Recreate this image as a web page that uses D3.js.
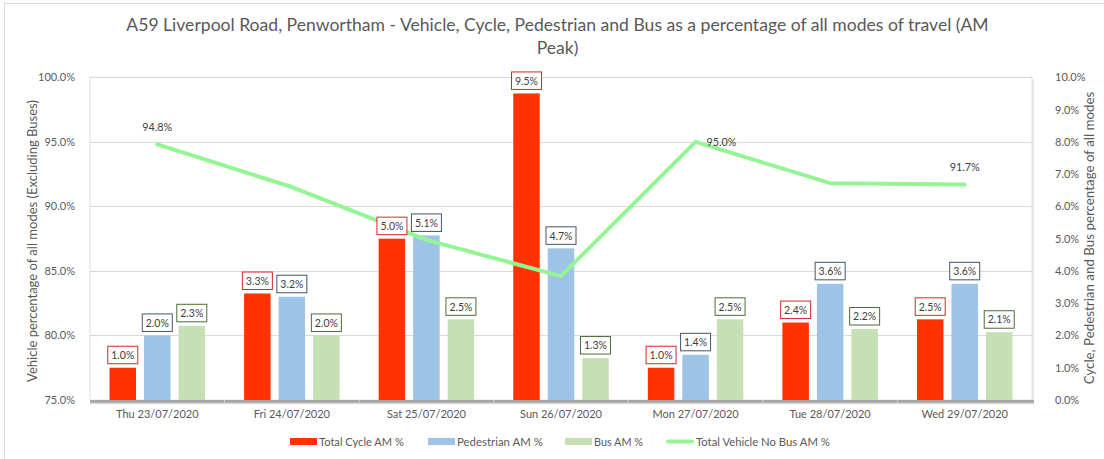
<!DOCTYPE html>
<html><head><meta charset="utf-8">
<script src="https://cdn.jsdelivr.net/npm/d3@7"></script>
<style>
body{margin:0;background:#fff;}
svg{display:block;font-family:Lato,"Open Sans",sans-serif;}
</style></head><body>
<svg id="c" width="1104" height="459"></svg>
<script>
const categories = ["Thu 23/07/2020","Fri 24/07/2020","Sat 25/07/2020","Sun 26/07/2020","Mon 27/07/2020","Tue 28/07/2020","Wed 29/07/2020"];
const cycle = [1.0,3.3,5.0,9.5,1.0,2.4,2.5];
const pedestrian = [2.0,3.2,5.1,4.7,1.4,3.6,3.6];
const bus = [2.3,2.0,2.5,1.3,2.5,2.2,2.1];
const vehicle = [94.8,91.5,87.4,84.6,95.0,91.8,91.7];
const leftTicks = [75,80,85,90,95,100];
const rightTicks = [0,1,2,3,4,5,6,7,8,9,10];
const seriesNames = ["Total Cycle AM %","Pedestrian AM %","Bus AM %"];
const lineName = "Total Vehicle No Bus AM %";
const lineLabelIdx = [0,4,6];

const colors = ["#ff3300","#9dc3e6","#c5e0b4"];
const boxColors = ["#d42828","#44546a","#4d6b35"];
const lineColor = "#95f595";
const textCol = "#595959";

const svg = d3.select("#c");
const L = 90, R = 1032, T = 77.3, B = 400;

// outer border
svg.append("rect").attr("x",4.5).attr("y",3.5).attr("width",1110).attr("height",470)
  .attr("fill","none").attr("stroke","#d9d9d9");

const x = d3.scaleBand().domain(categories).range([L,R]).padding(0);
const xs = d3.scaleBand().domain([0,1,2]).range([-47.75,47.75]).paddingInner(0.232).paddingOuter(0);
const yL = d3.scaleLinear().domain([75,100]).range([B,T]);
const yR = d3.scaleLinear().domain([0,10]).range([B,T]);

function fit(sel, target, base){
  sel.attr("font-size", base);
  const w = sel.node().getComputedTextLength();
  sel.attr("font-size", base*target/w);
}

// title
const t1 = svg.append("text").attr("x",557.5).attr("y",31).attr("text-anchor","middle").attr("fill",textCol)
  .text("A59 Liverpool Road, Penwortham - Vehicle, Cycle, Pedestrian and Bus as a percentage of all modes of travel (AM");
fit(t1, 863, 18);
svg.append("text").attr("x",557.5).attr("y",54).attr("text-anchor","middle").attr("fill",textCol)
  .attr("font-size", t1.attr("font-size")).text("Peak)");

// plot shadow + frame
svg.append("rect").attr("x",L+2).attr("y",T+2).attr("width",R-L).attr("height",B-T+1).attr("fill","#e8e8e8");
svg.append("rect").attr("x",L).attr("y",T).attr("width",R-L).attr("height",B-T).attr("fill","#fff").attr("stroke","#e0e0e0");

// gridlines
svg.append("g").selectAll("line").data(leftTicks.slice(1)).join("line")
  .attr("x1",L).attr("x2",R).attr("y1",d=>Math.round(yL(d))+0.5).attr("y2",d=>Math.round(yL(d))+0.5)
  .attr("stroke","#d9d9d9").attr("stroke-width",1);

// left axis
const gl = svg.append("g").attr("transform",`translate(${L-12},0)`)
  .call(d3.axisLeft(yL).tickValues(leftTicks).tickFormat(d=>d.toFixed(1)+"%").tickSize(0));
gl.select(".domain").remove();
gl.selectAll("text").attr("fill",textCol).attr("font-size",11).attr("font-family","Lato,sans-serif");

// right axis
const gr = svg.append("g").attr("transform",`translate(${R+20},0)`)
  .call(d3.axisRight(yR).tickValues(rightTicks).tickFormat(d=>d.toFixed(1)+"%").tickSize(0));
gr.select(".domain").remove();
gr.selectAll("text").attr("fill",textCol).attr("font-size",11).attr("font-family","Lato,sans-serif");

// axis titles
const lt = svg.append("text").attr("transform","translate(37,241) rotate(-90)").attr("text-anchor","middle")
  .attr("fill",textCol).text("Vehicle percentage of all modes (Excluding Buses)");
fit(lt, 282, 12);
const rt = svg.append("text").attr("transform","translate(1094,238) rotate(-90)").attr("text-anchor","middle")
  .attr("fill",textCol).text("Cycle, Pedestrian and Bus percentage of all modes");
fit(rt, 293, 12);

// bars
const series = [cycle, pedestrian, bus];
const barData = [];
series.forEach((arr,s)=>arr.forEach((v,i)=>barData.push({s,i,v,c:categories[i]})));
svg.append("g").selectAll("rect").data(barData).join("rect")
  .attr("x",d=>x(d.c)+x.bandwidth()/2+xs(d.s))
  .attr("width",xs.bandwidth())
  .attr("y",d=>yR(d.v)).attr("height",d=>B-yR(d.v))
  .attr("fill",d=>colors[d.s]);

// x axis
svg.append("line").attr("x1",L).attr("x2",R+2).attr("y1",B+1.5).attr("y2",B+1.5).attr("stroke","#a6a6a6").attr("stroke-width",3);
svg.append("line").attr("x1",L).attr("x2",R+2).attr("y1",B+3.5).attr("y2",B+3.5).attr("stroke","#dcdcdc").attr("stroke-width",1.5);
svg.append("g").selectAll("line").data(categories.slice(1)).join("line")
  .attr("x1",d=>x(d)).attr("x2",d=>x(d)).attr("y1",B).attr("y2",B+4).attr("stroke","#d0d0d0").attr("stroke-width",1);
const gx = svg.append("g").attr("transform",`translate(0,${B+4})`)
  .call(d3.axisBottom(x).tickSize(0).tickPadding(6));
gx.select(".domain").remove();
gx.selectAll("text").attr("fill",textCol).attr("font-size",11).attr("font-family","Lato,sans-serif");

// line
const line = d3.line().x((d,i)=>x(categories[i])+x.bandwidth()/2).y(d=>yL(d));
svg.append("path").datum(vehicle).attr("d",line).attr("fill","none")
  .attr("stroke",lineColor).attr("stroke-width",4).attr("stroke-linejoin","round").attr("stroke-linecap","round");

// line labels
const llg = svg.append("g");
lineLabelIdx.forEach(i=>{
  const cx = x(categories[i])+x.bandwidth()/2, cy = yL(vehicle[i]);
  const t = llg.append("text").attr("fill","#404040").text(vehicle[i].toFixed(1)+"%");
  fit(t, 30, 11);
  if(i===4){ t.attr("x",cx+11).attr("y",cy+4).attr("text-anchor","start"); }
  else { t.attr("x",cx).attr("y",cy-13).attr("text-anchor","middle"); }
});

// bar labels
const lg = svg.append("g");
barData.forEach(d=>{
  const cx = x(d.c)+x.bandwidth()/2+xs(d.s)+xs.bandwidth()/2;
  const top = yR(d.v);
  const bw = 30, bh = 17.5;
  lg.append("rect").attr("x",cx-bw/2).attr("y",top-4-bh).attr("width",bw).attr("height",bh)
    .attr("fill","#fff").attr("stroke",boxColors[d.s]).attr("stroke-width",1);
  lg.append("text").attr("x",cx).attr("y",top-4-bh/2+4).attr("text-anchor","middle")
    .attr("fill","#404040").attr("font-size",10.5).text(d.v.toFixed(1)+"%");
});

// legend
const legItems = [
  {name:seriesNames[0], x:290, tx:319, w:85, type:"rect", c:colors[0]},
  {name:seriesNames[1], x:428, tx:457, w:86, type:"rect", c:colors[1]},
  {name:seriesNames[2], x:565, tx:594, w:49, type:"rect", c:colors[2]},
  {name:lineName, x:666, tx:696, w:134, type:"line", c:lineColor}
];
const leg = svg.append("g");
legItems.forEach(it=>{
  if(it.type==="rect") leg.append("rect").attr("x",it.x).attr("y",438).attr("width",27).attr("height",7).attr("fill",it.c);
  else leg.append("line").attr("x1",it.x+2).attr("x2",it.x+26).attr("y1",441.5).attr("y2",441.5).attr("stroke",it.c).attr("stroke-width",4).attr("stroke-linecap","round");
  const t = leg.append("text").attr("x",it.tx).attr("y",446).attr("fill",textCol).text(it.name);
  fit(t, it.w, 12);
});
</script></body></html>
